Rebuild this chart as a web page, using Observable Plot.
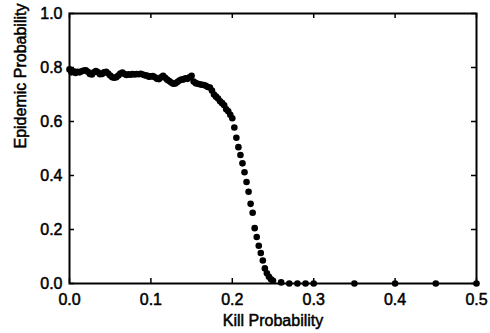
<!DOCTYPE html>
<html>
<head>
<meta charset="utf-8">
<script src="https://cdn.jsdelivr.net/npm/d3@7"></script>
<script src="https://cdn.jsdelivr.net/npm/@observablehq/plot@0.6"></script>
<style>
  html, body { margin: 0; padding: 0; background: #fff; }
  #chart { width: 490px; height: 333px; }
</style>
</head>
<body>
<div id="chart"></div>
<script>
const killProb = [
  0.0000, 0.0025, 0.0050, 0.0075, 0.0100, 0.0125, 0.0150, 0.0175, 0.0200, 0.0225,
  0.0250, 0.0275, 0.0300, 0.0325, 0.0350, 0.0375, 0.0400, 0.0425, 0.0450, 0.0475,
  0.0500, 0.0525, 0.0550, 0.0575, 0.0600, 0.0625, 0.0650, 0.0675, 0.0700, 0.0725,
  0.0750, 0.0775, 0.0800, 0.0825, 0.0850, 0.0875, 0.0900, 0.0925, 0.0950, 0.0975,
  0.1000, 0.1025, 0.1050, 0.1075, 0.1100, 0.1125, 0.1150, 0.1175, 0.1200, 0.1225,
  0.1250, 0.1275, 0.1300, 0.1325, 0.1350, 0.1375, 0.1400, 0.1425, 0.1450, 0.1475,
  0.1500, 0.1525, 0.1550, 0.1575, 0.1600, 0.1625, 0.1650, 0.1675, 0.1700, 0.1725,
  0.1750, 0.1775, 0.1800, 0.1825, 0.1850, 0.1875, 0.1900, 0.1925, 0.1950, 0.1975,
  0.2000, 0.2025, 0.2050, 0.2075, 0.2100, 0.2125, 0.2150, 0.2175, 0.2200, 0.2225,
  0.2250, 0.2275, 0.2300, 0.2325, 0.2350, 0.2375, 0.2400, 0.2425, 0.2450, 0.2475,
  0.2500, 0.26, 0.27, 0.28, 0.29, 0.30, 0.35, 0.40, 0.45, 0.50
];
const epidemicProb = [
  0.793, 0.782, 0.786, 0.780, 0.784, 0.782, 0.786, 0.789, 0.790, 0.784,
  0.776, 0.774, 0.782, 0.787, 0.782, 0.775, 0.776, 0.782, 0.784, 0.778,
  0.770, 0.764, 0.762, 0.764, 0.770, 0.778, 0.781, 0.776, 0.772, 0.775,
  0.773, 0.776, 0.774, 0.776, 0.775, 0.777, 0.774, 0.771, 0.770, 0.766,
  0.767, 0.768, 0.764, 0.758, 0.757, 0.764, 0.769, 0.762, 0.755, 0.750,
  0.744, 0.740, 0.741, 0.746, 0.752, 0.755, 0.756, 0.760, 0.758, 0.764,
  0.769, 0.748, 0.742, 0.740, 0.738, 0.736, 0.735, 0.732, 0.728, 0.726,
  0.715, 0.700, 0.692, 0.685, 0.675, 0.668, 0.660, 0.645, 0.638, 0.625,
  0.612, 0.578, 0.540, 0.505, 0.476, 0.445, 0.412, 0.376, 0.340, 0.295,
  0.262, 0.205, 0.172, 0.140, 0.113, 0.085, 0.056, 0.038, 0.025, 0.016,
  0.010, 0.004, 0.000, 0.000, 0.000, 0.000, 0.000, 0.000, 0.000, 0.000
];
const xTicks = [0, 0.1, 0.2, 0.3, 0.4, 0.5];
const yTicks = [0, 0.2, 0.4, 0.6, 0.8, 1.0];
const xTitle = "Kill Probability";
const yTitle = "Epidemic Probability";

const data = killProb.map((x, i) => ({x, y: epidemicProb[i]}));
const fmt = d3.format(".1f");

const W = 490, H = 333, ML = 69, MR = 14, MT = 13, MB = 50;
const frameW = W - ML - MR, frameH = H - MT - MB, tick = 5;

const chart = Plot.plot({
  width: W,
  height: H,
  marginLeft: ML,
  marginRight: MR,
  marginTop: MT,
  marginBottom: MB,
  style: {fontFamily: "'Liberation Sans', Arial, Helvetica, sans-serif", fontSize: "16px", color: "#000", background: "#fff"},
  x: {domain: [0, 0.5]},
  y: {domain: [0, 1]},
  marks: [
    Plot.axisX(xTicks, {anchor: "bottom", tickSize: 0, tickPadding: 10, tickFormat: fmt, label: null, fontSize: 16, textStroke: "#000", textStrokeWidth: 0.5}),
    Plot.axisY(yTicks, {anchor: "left", tickSize: 0, tickPadding: 7, tickFormat: fmt, label: null, fontSize: 16, textStroke: "#000", textStrokeWidth: 0.5}),
    // inward tick marks on all four sides
    Plot.tickX(xTicks, {x: d => d, insetTop: frameH - tick, stroke: "#000", strokeWidth: 1.5}),
    Plot.tickX(xTicks, {x: d => d, insetBottom: frameH - tick, stroke: "#000", strokeWidth: 1.5}),
    Plot.tickY(yTicks, {y: d => d, insetRight: frameW - tick, stroke: "#000", strokeWidth: 1.5}),
    Plot.tickY(yTicks, {y: d => d, insetLeft: frameW - tick, stroke: "#000", strokeWidth: 1.5}),
    Plot.frame({stroke: "#000", strokeWidth: 2}),
    Plot.dot(data, {x: "x", y: "y", r: 3.3, fill: "#000", stroke: "none"}),
    Plot.text([xTitle], {frameAnchor: "bottom", dy: 37, lineAnchor: "middle", fontSize: 16, fill: "#000", stroke: "#000", strokeWidth: 0.5}),
    Plot.text([yTitle], {frameAnchor: "left", dx: -49, rotate: -90, lineAnchor: "middle", fontSize: 16, fill: "#000", stroke: "#000", strokeWidth: 0.5})
  ]
});
document.getElementById("chart").appendChild(chart);
</script>
</body>
</html>
